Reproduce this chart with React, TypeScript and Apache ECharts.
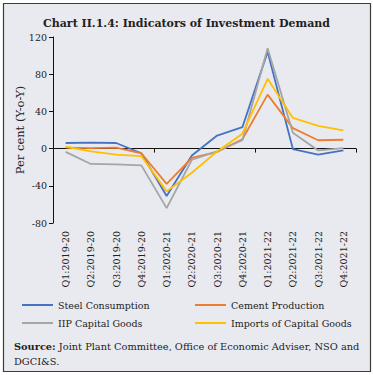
import React, { useEffect, useRef } from "react";
import * as echarts from "echarts";

const categories = [
  "Q1:2019-20", "Q2:2019-20", "Q3:2019-20", "Q4:2019-20",
  "Q1:2020-21", "Q2:2020-21", "Q3:2020-21", "Q4:2020-21",
  "Q1:2021-22", "Q2:2021-22", "Q3:2021-22", "Q4:2021-22",
];
const steel = [6, 6.5, 6, -5, -51, -7.5, 14, 23, 104, -0.5, -6.5, -2];
const cement = [1, 0.5, 1, -5, -38, -10, -3.5, 10, 58, 22, 9, 9.5];
const iipCapital = [-3.5, -16.5, -17, -18, -64, -12, -3, 9, 108, 17, -2, 0.5];
const importsCapital = [2, -3, -6.5, -8, -46, -26, -3, 16, 75, 33, 24.5, 19.5];
const yTicks = { min: -80, max: 120, interval: 40 };

const FONT = "DejaVu Serif";

export default function App() {
  const ref = useRef<HTMLDivElement>(null);
  useEffect(() => {
    if (!ref.current) return;
    const chart = echarts.init(ref.current, null, { renderer: "svg" });
    const mk = (name: string, data: number[], color: string) => ({
      name,
      type: "line",
      data,
      xAxisIndex: 1,
      symbol: "none",
      lineStyle: { color, width: 1.8 },
      itemStyle: { color },
    });
    const legendText = () => ({ fontFamily: FONT, fontSize: 9.5, color: "#222" });
    chart.setOption({
      animation: false,
      backgroundColor: "#ffffff",
      textStyle: { fontFamily: FONT },
      title: {
        text: "Chart II.1.4: Indicators of Investment Demand",
        left: "center",
        top: 13,
        textStyle: { fontFamily: FONT, fontWeight: "bold", fontSize: 11, color: "#222" },
      },
      graphic: [
        {
          type: "rect",
          z: -10,
          silent: true,
          shape: { x: 3.5, y: 3.5, width: 367, height: 368 },
          style: { fill: "#e9eaef", stroke: "#3c3c3c", lineWidth: 1.2 },
        },
        {
          type: "text",
          left: 14,
          top: 339,
          style: {
            text: "{b|Source:} Joint Plant Committee, Office of Economic Adviser, NSO and\nDGCI&S.",
            rich: {
              b: { fontFamily: FONT, fontWeight: "bold", fontSize: 9.8, fill: "#222" },
            },
            fontFamily: FONT,
            fontSize: 9.8,
            lineHeight: 15,
            fill: "#222",
          },
        },
      ],
      legend: [
        {
          data: ["Steel Consumption", "IIP Capital Goods"],
          orient: "vertical",
          left: 17,
          top: 295,
          itemWidth: 31,
          itemHeight: 2,
          itemGap: 8,
          icon: "rect",
          textStyle: legendText(),
        },
        {
          data: ["Cement Production", "Imports of Capital Goods"],
          orient: "vertical",
          left: 190,
          top: 295,
          itemWidth: 31,
          itemHeight: 2,
          itemGap: 8,
          icon: "rect",
          textStyle: legendText(),
        },
      ],
      grid: { left: 53, right: 17, top: 37, bottom: 152, containLabel: false },
      xAxis: [
        {
          type: "category",
          data: categories,
          position: "bottom",
          axisLine: { show: false, onZero: false },
          axisTick: { show: false },
          axisLabel: {
            rotate: 90,
            interval: 0,
            margin: 8,
            fontFamily: FONT,
            fontSize: 9.5,
            color: "#222",
          },
        },
        {
          type: "category",
          data: categories,
          position: "bottom",
          axisLine: { show: true, onZero: true, lineStyle: { color: "#111", width: 1 } },
          axisTick: { show: true, length: 4, lineStyle: { color: "#111" } },
          axisLabel: { show: false },
        },
      ],
      yAxis: {
        type: "value",
        min: yTicks.min,
        max: yTicks.max,
        interval: yTicks.interval,
        name: "Per cent (Y-o-Y)",
        nameLocation: "middle",
        nameGap: 27,
        nameMoveOverlap: false,
        nameTextStyle: { fontFamily: FONT, fontSize: 11.5, color: "#222" },
        axisLine: { show: true, lineStyle: { color: "#111" } },
        axisTick: { show: true, length: 4, lineStyle: { color: "#111" } },
        splitLine: { show: false },
        axisLabel: { fontFamily: FONT, fontSize: 9.5, color: "#222", margin: 6 },
      },
      series: [
        mk("Steel Consumption", steel, "#4472c4"),
        mk("Cement Production", cement, "#ed7d31"),
        mk("IIP Capital Goods", iipCapital, "#a5a5a5"),
        mk("Imports of Capital Goods", importsCapital, "#ffc000"),
      ],
    });
    return () => chart.dispose();
  }, []);
  return (
    <div
      ref={ref}
      style={{ position: "fixed", left: 0, top: 0, width: 373, height: 375 }}
    />
  );
}
